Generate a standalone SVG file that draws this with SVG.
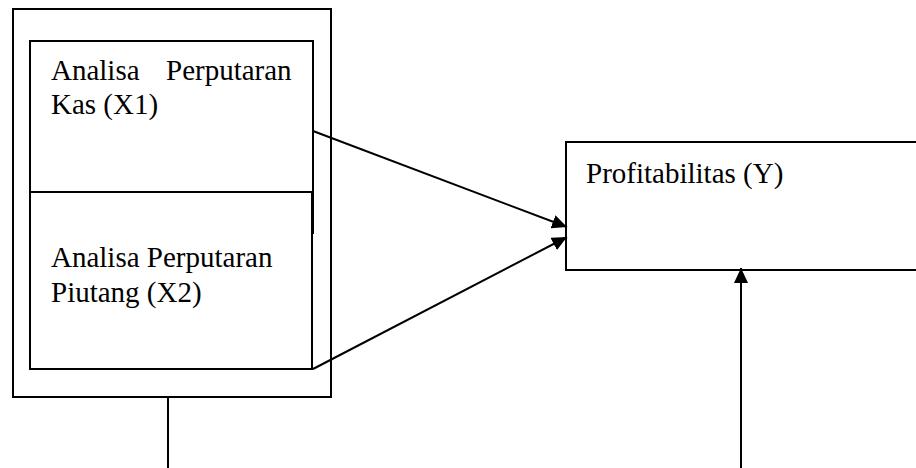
<svg xmlns="http://www.w3.org/2000/svg" width="916" height="468" viewBox="0 0 916 468">
<defs>
<style>
.box{fill:none;stroke:#000;stroke-width:2}
.ln{fill:none;stroke:#000;stroke-width:2}
.t{font-family:"Liberation Serif","Times New Roman",serif;font-size:29px;fill:#000}
</style>
<marker id="ah" viewBox="0 0 15 14" refX="15" refY="7" markerWidth="15" markerHeight="14" markerUnits="userSpaceOnUse" orient="auto">
<path d="M0,0 L15,7 L0,14 z" fill="#000"/>
</marker>
</defs>
<rect width="916" height="468" fill="#fff"/>
<g id="outer">
<rect class="box" x="13" y="9" width="318" height="388"/>
</g>
<g id="x1">
<rect class="box" x="30" y="41" width="283" height="151"/>
<line class="ln" x1="313" y1="192" x2="313" y2="234"/>
<text class="t" y="80"><tspan x="51">Analisa</tspan><tspan x="166">Perputaran</tspan></text>
<text class="t" x="51" y="114">Kas (X1)</text>
</g>
<g id="x2">
<rect class="box" x="30" y="192" width="282" height="177"/>
<text class="t" x="51" y="267">Analisa Perputaran</text>
<text class="t" x="51" y="302">Piutang (X2)</text>
</g>
<g id="y">
<rect class="box" x="566" y="142" width="360" height="128"/>
<text class="t" x="586" y="183">Profitabilitas (Y)</text>
</g>
<g id="connectors">
<line class="ln" x1="313" y1="131" x2="567" y2="227" marker-end="url(#ah)"/>
<line class="ln" x1="313" y1="369" x2="567" y2="237" marker-end="url(#ah)"/>
<line class="ln" x1="168" y1="398" x2="168" y2="468"/>
<line class="ln" x1="741" y1="468" x2="741" y2="268" marker-end="url(#ah)"/>
</g>
</svg>
